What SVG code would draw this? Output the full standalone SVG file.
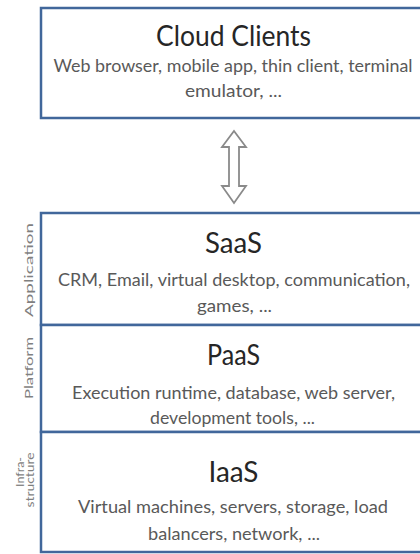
<svg xmlns="http://www.w3.org/2000/svg" width="420" height="554" viewBox="0 0 420 554">
<style>
.box{fill:#fff;stroke:#41679b;stroke-width:2.5}
.title{font-family:Lato,"Open Sans",sans-serif;font-size:29px;fill:#262626;text-anchor:middle}
.sub{font-family:Lato,"Open Sans",sans-serif;font-size:17px;fill:#595959;text-anchor:middle}
.side{font-family:Lato,"Open Sans",sans-serif;font-size:12px;fill:#7f7f7f;text-anchor:middle}
.arrow{fill:#fff;stroke:#8a8a8a;stroke-width:1.8;stroke-linejoin:miter}
</style>
<rect width="420" height="554" fill="#fff"/>
<g id="cloud-clients">
<rect class="box" x="41" y="8" width="400" height="110"/>
<text class="title" x="233.5" y="46" textLength="155" lengthAdjust="spacingAndGlyphs">Cloud Clients</text>
<text class="sub" x="233" y="72" textLength="359" lengthAdjust="spacingAndGlyphs">Web browser, mobile app, thin client, terminal</text>
<text class="sub" x="233.5" y="97" textLength="97" lengthAdjust="spacingAndGlyphs">emulator, ...</text>
</g>
<g id="connectors">
<path class="arrow" d="M234,131 L246,147 L239,147 L239,186 L246,186 L234,203 L222,186 L229,186 L229,147 L222,147 Z"/>
</g>
<g id="saas">
<rect class="box" x="41" y="213" width="400" height="112"/>
<text class="title" x="233.5" y="253" textLength="57" lengthAdjust="spacingAndGlyphs">SaaS</text>
<text class="sub" x="234" y="286" textLength="352" lengthAdjust="spacingAndGlyphs">CRM, Email, virtual desktop, communication,</text>
<text class="sub" x="234.5" y="312" textLength="75" lengthAdjust="spacingAndGlyphs">games, ...</text>
</g>
<g id="paas">
<rect class="box" x="41" y="325" width="400" height="107"/>
<text class="title" x="233.5" y="365" textLength="53" lengthAdjust="spacingAndGlyphs">PaaS</text>
<text class="sub" x="233.5" y="399" textLength="323" lengthAdjust="spacingAndGlyphs">Execution runtime, database, web server,</text>
<text class="sub" x="232.5" y="424" textLength="165" lengthAdjust="spacingAndGlyphs">development tools, ...</text>
</g>
<g id="iaas">
<rect class="box" x="41" y="432" width="400" height="120"/>
<text class="title" x="233.5" y="482" textLength="50" lengthAdjust="spacingAndGlyphs">IaaS</text>
<text class="sub" x="233" y="513" textLength="310" lengthAdjust="spacingAndGlyphs">Virtual machines, servers, storage, load</text>
<text class="sub" x="234" y="540" textLength="172" lengthAdjust="spacingAndGlyphs">balancers, network, ...</text>
</g>
<g id="side-labels">
<text class="side" transform="translate(33,270) rotate(-90)" textLength="94" lengthAdjust="spacingAndGlyphs">Application</text>
<text class="side" transform="translate(33,368) rotate(-90)" textLength="62" lengthAdjust="spacingAndGlyphs">Platform</text>
<text class="side" transform="translate(24,472) rotate(-90)" textLength="30" lengthAdjust="spacingAndGlyphs">Infra-</text>
<text class="side" transform="translate(34,480) rotate(-90)" textLength="55" lengthAdjust="spacingAndGlyphs">structure</text>
</g>
</svg>
